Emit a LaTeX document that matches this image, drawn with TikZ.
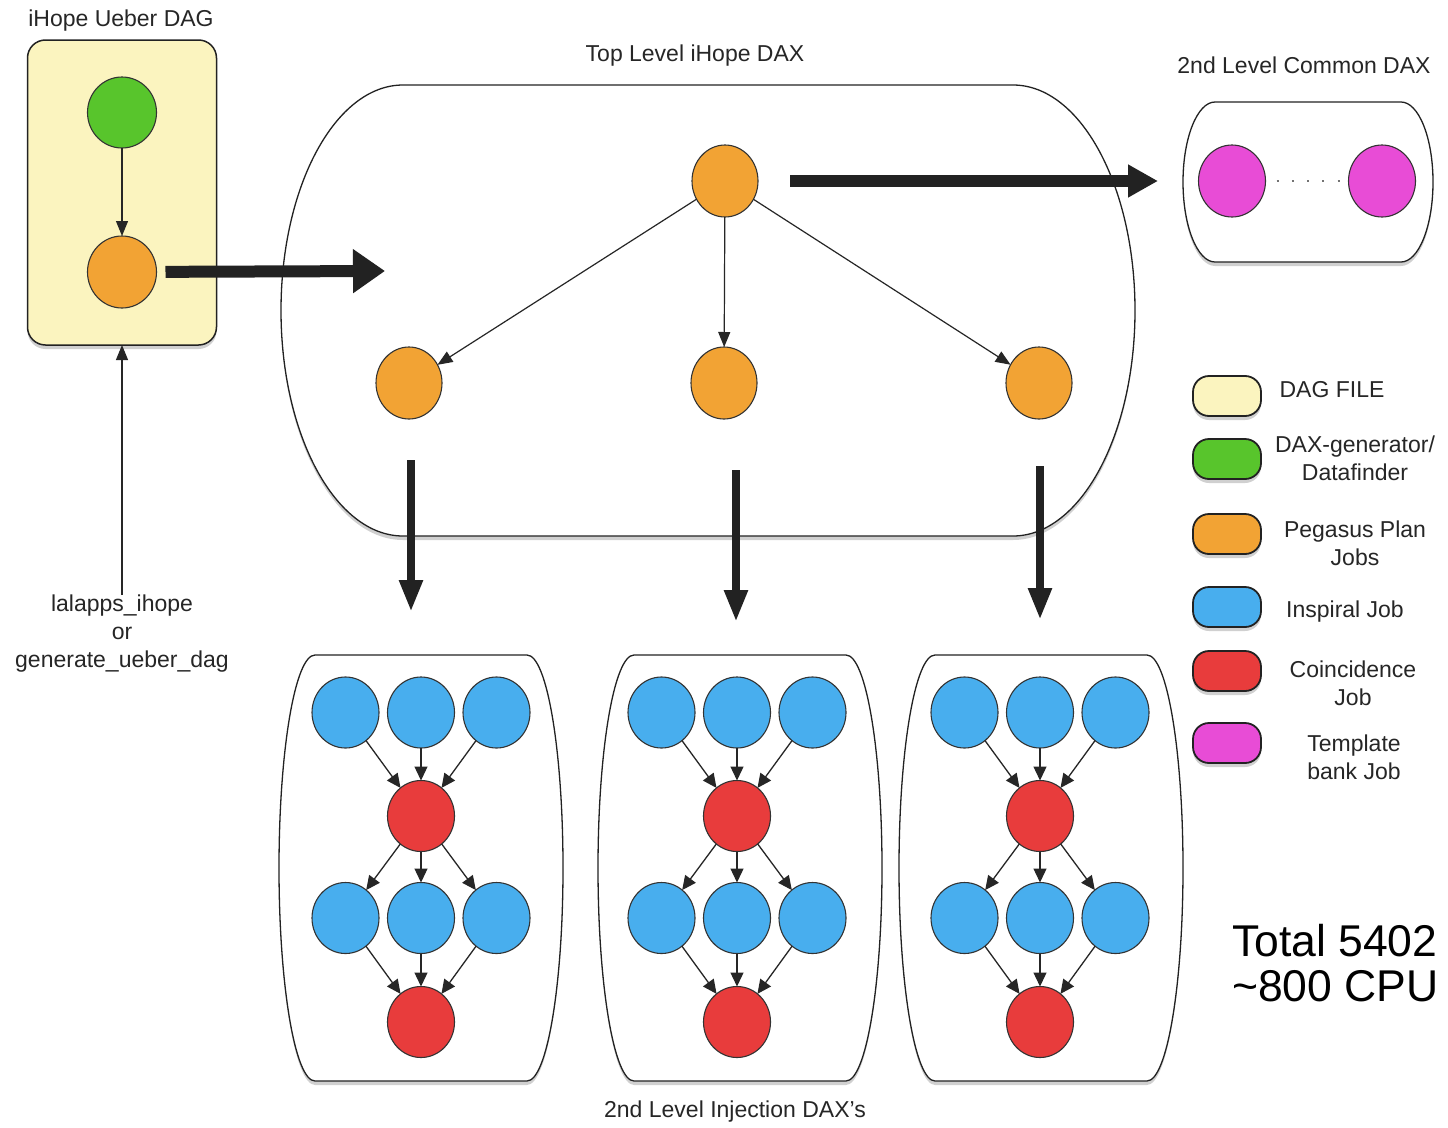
\documentclass[tikz,border=0pt]{standalone}
\usepackage{fontspec}
\setmainfont{Liberation Sans}
\usetikzlibrary{arrows.meta,shapes.geometric,shadows}
\definecolor{cYellow}{HTML}{FBF4BF}
\definecolor{cGreen}{HTML}{58C52C}
\definecolor{cOrange}{HTML}{F2A334}
\definecolor{cBlue}{HTML}{48AEEE}
\definecolor{cRed}{HTML}{E83C3C}
\definecolor{cMagenta}{HTML}{E84CD6}
\definecolor{cDark}{HTML}{222222}
% #1 left flat x, #2 right flat x, #3 top y, #4 bottom y, #5 side bulge
\newcommand\capsulepath[5]{(#1,#3) -- (#2,#3)
 .. controls ({#2+0.5523*#5},#3) and ({#2+#5},{(#3+#4)/2-0.5523*(#4-#3)/2}) .. ({#2+#5},{(#3+#4)/2})
 .. controls ({#2+#5},{(#3+#4)/2+0.5523*(#4-#3)/2}) and ({#2+0.5523*#5},#4) .. (#2,#4)
 -- (#1,#4)
 .. controls ({#1-0.5523*#5},#4) and ({#1-#5},{(#3+#4)/2+0.5523*(#4-#3)/2}) .. ({#1-#5},{(#3+#4)/2})
 .. controls ({#1-#5},{(#3+#4)/2-0.5523*(#4-#3)/2}) and ({#1-0.5523*#5},#3) .. (#1,#3) -- cycle}
\begin{document}
\begin{tikzpicture}[x=1pt,y=-1pt,
  every node/.style={inner sep=0pt,outer sep=0pt},
  lbl/.style={font=\fontsize{23}{28}\selectfont,text=black!85},
  shad/.style={drop shadow={shadow xshift=0pt,shadow yshift=-4pt,opacity=0.3,fill=black!60}},
  capsule/.style={draw=cDark,line width=1.3pt,fill=white,shad},
  job/.style={ellipse,draw=black!80,line width=1.1pt,minimum width=67pt,minimum height=71pt},
  pjob/.style={job,fill=cOrange,minimum width=66pt,minimum height=72pt},
  bjob/.style={job,fill=cBlue},
  rjob/.style={job,fill=cRed},
  ubox/.style={rectangle,rounded corners=18pt,draw=cDark,line width=1.5pt,fill=cYellow,
    minimum width=189pt,minimum height=305pt,shad},
  thinarrow/.style={draw=black!85,line width=1.2pt,-{Triangle[length=15pt,width=12pt]}},
  smallarrow/.style={draw=black!85,line width=1.3pt,-{Triangle[length=14pt,width=13pt]}},
  bigarrow/.style={draw=cDark,line width=12pt,-{Triangle[length=32pt,width=42pt]}},
  rightarrow/.style={draw=cDark,line width=12pt,-{Triangle[length=30pt,width=31pt]}},
  downarrow/.style={draw=cDark,line width=8pt,-{Triangle[length=32pt,width=22pt]}},
  dotline/.style={draw=black!55,line width=2pt,dash pattern=on 2pt off 13.25pt,dash phase=4.25pt},
  pill/.style={rectangle,rounded corners=16pt,draw=cDark,line width=1.8pt,
    minimum width=68pt,minimum height=40pt,shad}
]
\useasboundingbox (0,0) rectangle (1448,1127);
\clip (0,0) rectangle (1448,1127);
\fill[white] (0,0) rectangle (1448,1127);

% ---------- iHope Ueber DAG ----------
\node[lbl,anchor=base] (tUeber) at (121,27) {iHope Ueber DAG};
\node[ubox] (ubox) at (122,192.5) {};
\node[job,fill=cGreen,minimum width=69pt,minimum height=71pt] (ug) at (122,112.5) {};
\node[job,fill=cOrange,minimum width=69pt,minimum height=72pt] (uo) at (122,272) {};
\draw[thinarrow] (ug) -- (uo);
\node[lbl,anchor=north,align=center] (lal) at (122,595) {lalapps\_ihope\\or\\generate\_ueber\_dag};
\draw[thinarrow] (lal.north) -- (ubox.south);

% ---------- Top level DAX ----------
\node[lbl,anchor=base] (tTop) at (695,61) {Top Level iHope DAX};
\path[capsule] \capsulepath{403}{1013}{85}{536}{122};
\node[pjob] (pt) at (725,181) {};
\node[pjob] (pl) at (409,383) {};
\node[pjob] (pm) at (724,383) {};
\node[pjob] (pr) at (1039,383) {};
\draw[thinarrow] (pt) -- (pl);
\draw[thinarrow] (pt) -- (pm);
\draw[thinarrow] (pt) -- (pr);
\coordinate (capin) at (385,271);
\draw[bigarrow,shorten <=9pt] (uo) -- (capin);

% ---------- 2nd level common DAX ----------
\node[lbl,anchor=base] (tCommon) at (1304,73) {2nd Level Common DAX};
\path[capsule] \capsulepath{1215}{1401}{102}{262}{32};
\node[job,fill=cMagenta,minimum height=72pt] (m1) at (1232,181) {};
\node[job,fill=cMagenta,minimum height=72pt] (m2) at (1382,181) {};
\draw[dotline] (m1) -- (m2);
\coordinate (cdin) at (1158,181);
\draw[rightarrow,shorten <=32pt] (pt) -- (cdin);

% ---------- 2nd level injection DAXs ----------
\foreach \i/\cx/\l/\r in {1/421/315/527,2/737/634/846,3/1040/935/1147}{
  \path[capsule] \capsulepath{\l}{\r}{655}{1081}{36};
  \node[bjob] (b\i a) at ({\cx-75.5},712.5) {};
  \node[bjob] (b\i b) at (\cx,712.5) {};
  \node[bjob] (b\i c) at ({\cx+75.5},712.5) {};
  \node[rjob] (b\i r) at (\cx,816) {};
  \node[bjob] (b\i d) at ({\cx-75.5},918) {};
  \node[bjob] (b\i e) at (\cx,918) {};
  \node[bjob] (b\i f) at ({\cx+75.5},918) {};
  \node[rjob] (b\i s) at (\cx,1022) {};
  \draw[smallarrow] (b\i a) -- (b\i r);
  \draw[smallarrow] (b\i b) -- (b\i r);
  \draw[smallarrow] (b\i c) -- (b\i r);
  \draw[smallarrow] (b\i r) -- (b\i d);
  \draw[smallarrow] (b\i r) -- (b\i e);
  \draw[smallarrow] (b\i r) -- (b\i f);
  \draw[smallarrow] (b\i d) -- (b\i s);
  \draw[smallarrow] (b\i e) -- (b\i s);
  \draw[smallarrow] (b\i f) -- (b\i s);
}
\node[lbl,anchor=base] (tInj) at (735,1117) {2nd Level Injection DAX's};

% thick arrows down
\coordinate (d1s) at (411,460);  \coordinate (d1e) at (411,612);
\coordinate (d2s) at (736,470);  \coordinate (d2e) at (736,622);
\coordinate (d3s) at (1040,466); \coordinate (d3e) at (1040,620);
\draw[downarrow] (d1s) -- (d1e);
\draw[downarrow] (d2s) -- (d2e);
\draw[downarrow] (d3s) -- (d3e);

% ---------- legend ----------
\node[pill,fill=cYellow] (k1) at (1227,396) {};
\node[pill,fill=cGreen] (k2) at (1227,459) {};
\node[pill,fill=cOrange] (k3) at (1227,534) {};
\node[pill,fill=cBlue] (k4) at (1227,607) {};
\node[pill,fill=cRed] (k5) at (1227,671) {};
\node[pill,fill=cMagenta] (k6) at (1227,743) {};
\node[lbl,anchor=base] (k1t) at (1332,397) {DAG FILE};
\node[lbl,anchor=north,align=center] (k2t) at (1355,436) {DAX-generator/\\Datafinder};
\node[lbl,anchor=north,align=center] (k3t) at (1355,521) {Pegasus Plan\\Jobs};
\node[lbl,anchor=base] (k4t) at (1345,617) {Inspiral Job};
\node[lbl,anchor=north,align=center] (k5t) at (1353,661) {Coincidence\\Job};
\node[lbl,anchor=north,align=center] (k6t) at (1354,735) {Template\\bank Job};

% ---------- totals ----------
\node[anchor=north west,align=left,font=\fontsize{44.5}{45}\selectfont] (total) at (1232,924) {Total 5402\\\textasciitilde800 CPU};
\end{tikzpicture}
\end{document}
